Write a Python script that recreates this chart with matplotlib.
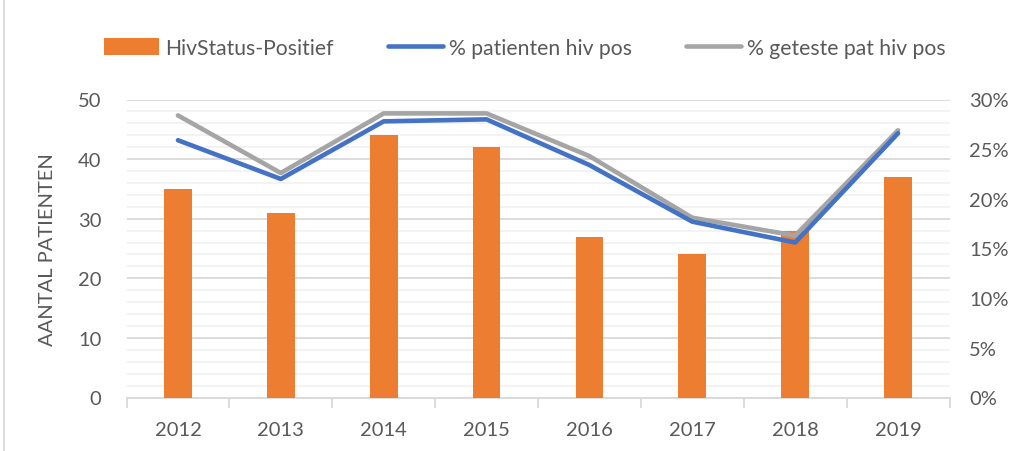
import matplotlib
matplotlib.use("Agg")
import matplotlib.pyplot as plt
from matplotlib.patches import Patch
from matplotlib.lines import Line2D
from matplotlib.ticker import MultipleLocator, PercentFormatter, FixedLocator

plt.rcParams['font.family'] = ['Lato', 'DejaVu Sans']

years = ['2012', '2013', '2014', '2015', '2016', '2017', '2018', '2019']
hiv_positief = [35, 31, 44, 42, 27, 24, 28, 37]
pct_patienten = [25.9, 22.0, 27.8, 28.0, 23.4, 17.7, 15.6, 26.6]
pct_geteste = [28.4, 22.6, 28.6, 28.6, 24.3, 18.1, 16.3, 26.9]

ORANGE = '#ED7D31'
BLUE = '#4472C4'
GRAY = '#A5A5A5'
TXT = '#595959'
FS = 14.5

fig = plt.figure(figsize=(10.21, 4.52), dpi=100)
ax = fig.add_axes([126.5 / 1021, 1 - 398.5 / 452, (949.5 - 126.5) / 1021, (398.5 - 100.5) / 452])
x = list(range(len(years)))

ax.bar(x, hiv_positief, width=0.27, color=ORANGE, zorder=3)
ax.set_xlim(-0.5, len(years) - 0.5)
ax.set_ylim(0, 50)
ax.yaxis.set_major_locator(MultipleLocator(10))
ax.yaxis.set_minor_locator(MultipleLocator(2))
ax.grid(axis='y', which='major', color='#D9D9D9', linewidth=1.3, zorder=0)
ax.grid(axis='y', which='minor', color='#F2F2F2', linewidth=1.3, zorder=0)
ax.set_axisbelow(True)
for s in ['top', 'right', 'left']:
    ax.spines[s].set_visible(False)
ax.spines['bottom'].set_color('#D9D9D9')
ax.spines['bottom'].set_linewidth(1.3)
ax.set_xticks(x)
ax.set_xticklabels(years)
ax.xaxis.set_minor_locator(FixedLocator([i - 0.5 for i in range(len(years) + 1)]))
ax.tick_params(axis='x', which='major', length=0, pad=17, labelsize=FS, labelcolor=TXT)
ax.tick_params(axis='x', which='minor', length=7, width=1.3, color='#D9D9D9', direction='out')
ax.tick_params(axis='y', which='both', length=0, labelsize=FS, labelcolor=TXT, pad=18)
ax.set_ylabel('AANTAL PATIENTEN', fontsize=FS, color=TXT, labelpad=16)

ax2 = ax.twinx()
ax2.plot(x, pct_geteste, color=GRAY, linewidth=3.3, solid_capstyle='round', zorder=4)
ax2.plot(x, pct_patienten, color=BLUE, linewidth=3.3, solid_capstyle='round', zorder=5)
ax2.set_ylim(0, 30)
ax2.yaxis.set_major_locator(MultipleLocator(5))
ax2.yaxis.set_major_formatter(PercentFormatter(decimals=0))
for s in ['top', 'right', 'left', 'bottom']:
    ax2.spines[s].set_visible(False)
ax2.tick_params(axis='y', length=0, labelsize=FS, labelcolor=TXT, pad=14)

handles = [Patch(facecolor=ORANGE, edgecolor='none'),
           Line2D([0], [0], color=BLUE, linewidth=3.3, solid_capstyle='round'),
           Line2D([0], [0], color=GRAY, linewidth=3.3, solid_capstyle='round')]
labels = ['HivStatus-Positief', '% patienten hiv pos', '% geteste pat hiv pos']
leg = fig.legend(handles, labels, loc='center', bbox_to_anchor=(0.514, 1 - 49 / 452), ncol=3,
                 frameon=False, fontsize=15.2, labelcolor=TXT, handlelength=2.6, handleheight=0.85,
                 handletextpad=0.3, columnspacing=2.55)

fig.add_artist(Line2D([4 / 1021, 4 / 1021], [0, 1], color='#D9D9D9', linewidth=1.3, transform=fig.transFigure))

fig.savefig('out.png', dpi=100)
